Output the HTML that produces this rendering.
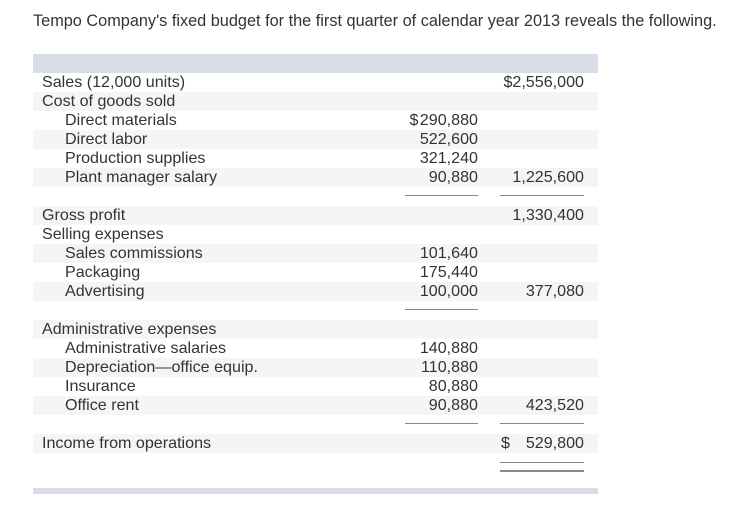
<!DOCTYPE html>
<html><head><meta charset="utf-8"><style>
body{margin:0;width:732px;height:508px;background:#fff;font-family:"Liberation Sans",Arial,sans-serif;color:#333;position:relative;overflow:hidden}
.t{position:absolute;left:33px;top:12px;font-size:16.3px;white-space:nowrap}
.bar{position:absolute;left:33px;width:565px;background:#d8dce6}
.row{position:absolute;left:33px;width:565px;height:19px;font-size:16.1px;line-height:19px}
.row.s{background:#f5f5f5}
.l{position:absolute;left:9px;white-space:nowrap}
.l.i{left:32px}
.a{position:absolute;right:120px;white-space:nowrap}
.b{position:absolute;right:14px;white-space:nowrap}
.ln{position:absolute;height:1px;background:#888}
</style></head><body>
<div class="t">Tempo Company's fixed budget for the first quarter of calendar year 2013 reveals the following.</div>
<div class="bar" style="top:54px;height:19px"></div>

<div class="row" style="top:73px"><span class="l">Sales (12,000 units)</span><span class="b">$2,556,000</span></div>
<div class="row s" style="top:92px"><span class="l">Cost of goods sold</span></div>
<div class="row" style="top:111px"><span class="l i">Direct materials</span><span class="a">$&#8202;290,880</span></div>
<div class="row s" style="top:130px"><span class="l i">Direct labor</span><span class="a">522,600</span></div>
<div class="row" style="top:149px"><span class="l i">Production supplies</span><span class="a">321,240</span></div>
<div class="row s" style="top:168px"><span class="l i">Plant manager salary</span><span class="a">90,880</span><span class="b">1,225,600</span></div>
<div class="ln" style="top:195px;left:405px;width:73px"></div>
<div class="ln" style="top:195px;left:500px;width:84px"></div>

<div class="row s" style="top:206px"><span class="l">Gross profit</span><span class="b">1,330,400</span></div>
<div class="row" style="top:225px"><span class="l">Selling expenses</span></div>
<div class="row s" style="top:244px"><span class="l i">Sales commissions</span><span class="a">101,640</span></div>
<div class="row" style="top:263px"><span class="l i">Packaging</span><span class="a">175,440</span></div>
<div class="row s" style="top:282px"><span class="l i">Advertising</span><span class="a">100,000</span><span class="b">377,080</span></div>
<div class="ln" style="top:309px;left:405px;width:73px"></div>

<div class="row s" style="top:320px"><span class="l">Administrative expenses</span></div>
<div class="row" style="top:339px"><span class="l i">Administrative salaries</span><span class="a">140,880</span></div>
<div class="row s" style="top:358px"><span class="l i">Depreciation—office equip.</span><span class="a">110,880</span></div>
<div class="row" style="top:377px"><span class="l i">Insurance</span><span class="a">80,880</span></div>
<div class="row s" style="top:396px"><span class="l i">Office rent</span><span class="a">90,880</span><span class="b">423,520</span></div>
<div class="ln" style="top:423px;left:405px;width:73px"></div>
<div class="ln" style="top:423px;left:500px;width:84px"></div>

<div class="row s" style="top:434px"><span class="l">Income from operations</span><span style="position:absolute;left:468px">$</span><span class="b">529,800</span></div>
<div class="ln" style="top:462px;left:500px;width:84px"></div>
<div class="ln" style="top:470px;left:500px;width:84px;height:2px"></div>

<div class="bar" style="top:488px;height:6px"></div>
</body></html>
